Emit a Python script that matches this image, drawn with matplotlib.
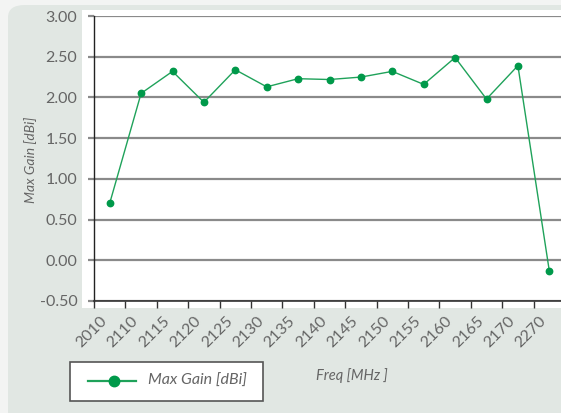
import numpy as np
import matplotlib.pyplot as plt
import matplotlib.transforms as mtransforms
from matplotlib.patches import FancyBboxPatch, Rectangle
from matplotlib.lines import Line2D

freqs = ["2010", "2110", "2115", "2120", "2125", "2130", "2135", "2140",
         "2145", "2150", "2155", "2160", "2165", "2170", "2270"]
gain = [0.70, 2.05, 2.32, 1.94, 2.34, 2.13, 2.23, 2.22,
        2.25, 2.32, 2.16, 2.49, 1.98, 2.39, -0.13]
yticks = [-0.5, 0.0, 0.5, 1.0, 1.5, 2.0, 2.5, 3.0]

W, H = 561, 413
GREEN = "#00994a"
TXT = "#656565"

plt.rcParams["font.family"] = ["Lato", "DejaVu Sans"]

fig = plt.figure(figsize=(W / 100, H / 100), dpi=100)
fig.patch.set_facecolor("#f3f4f3")

# pixel coords measured from top-left
def fx(px):
    return px / W

def fy(py):
    return 1 - py / H

panel = FancyBboxPatch((fx(8), fy(440)), fx(600), 435 / H,
                       boxstyle="round,pad=0,rounding_size=0.03",
                       transform=fig.transFigure, facecolor="#e1e7e3",
                       edgecolor="none", zorder=-2)
fig.patches.append(panel)
fig.patches.append(Rectangle((fx(82), fy(308)), fx(500), 298 / H,
                             transform=fig.transFigure, facecolor="white",
                             edgecolor="none", zorder=-1))

ax = fig.add_axes([fx(94), fy(301), fx(471), 285 / H])
ax.set_facecolor("none")
ax.set_zorder(1)
x = np.arange(len(freqs))
ax.plot(x, gain, color="#1fa25a", lw=1.0, zorder=3, clip_on=False)
ax.plot(x, gain, ls="none", marker="o", ms=4.6, markerfacecolor=GREEN,
        markeredgecolor=GREEN, zorder=4, clip_on=False)

ax.set_xlim(-0.5, len(freqs) - 0.5)
ax.set_ylim(-0.5, 3.0)
ax.set_yticks(yticks)
ax.set_yticklabels(["%.2f" % v for v in yticks], color=TXT, fontsize=11.5)
ax.yaxis.grid(True, color="#8a8a8a", lw=1.6)
ax.set_axisbelow(True)
ax.tick_params(axis="y", length=4, color="#8a8a8a", width=1.6, pad=8)

ax.set_xticks(x)
ax.set_xticklabels(freqs, rotation=45, ha="right", va="center",
                   rotation_mode="anchor", color=TXT, fontsize=11.5)
ax.set_xticks(np.arange(len(freqs) + 1) - 0.5, minor=True)
ax.tick_params(axis="x", which="major", length=0, pad=13)
ax.tick_params(axis="x", which="minor", length=5, color="#333333", width=1)
off = mtransforms.ScaledTranslation(-5 / 100, 0, fig.dpi_scale_trans)
for lab in ax.get_xticklabels():
    lab.set_transform(lab.get_transform() + off)

for s in ["top", "right"]:
    ax.spines[s].set_visible(False)
ax.spines["left"].set_color("#222222")
ax.spines["left"].set_linewidth(1)
ax.spines["bottom"].set_color("#333333")
ax.spines["bottom"].set_linewidth(1.2)

fig.text(fx(31), fy(160), "Max Gain [dBi]", rotation=90, ha="center",
         va="center", color=TXT, fontsize=10, style="italic")
fig.text(fx(352), fy(376), "Freq [MHz ]", ha="center", va="center",
         color=TXT, fontsize=10.5, style="italic")

# legend box
fig.patches.append(Rectangle((fx(70), fy(401)), fx(193), 39 / H,
                             transform=fig.transFigure, facecolor="white",
                             edgecolor="#555555", lw=1.2, zorder=2))
fig.lines.append(Line2D([fx(88), fx(136)], [fy(381), fy(381)],
                        transform=fig.transFigure, color="#1fa25a", lw=1.6,
                        zorder=3))
fig.lines.append(Line2D([fx(114)], [fy(381)], transform=fig.transFigure,
                        color=GREEN, marker="o", ms=7.5, zorder=3))
fig.text(fx(148), fy(381), "Max Gain [dBi]", ha="left", va="center",
         color=TXT, fontsize=11.5, style="italic", zorder=3)

fig.savefig("out.png", dpi=100, facecolor=fig.get_facecolor())
